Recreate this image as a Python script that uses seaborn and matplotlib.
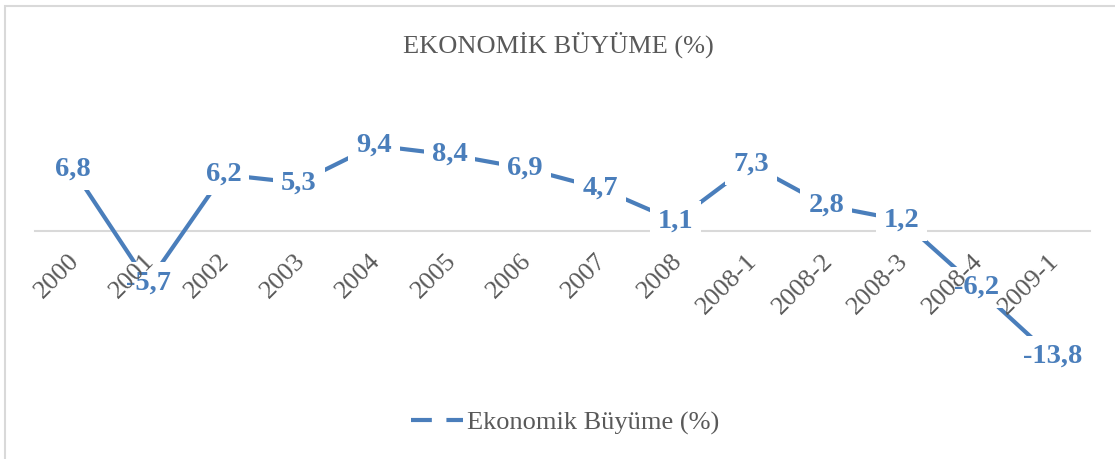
import numpy as np
import pandas as pd
import seaborn as sns
import matplotlib.pyplot as plt
from matplotlib.lines import Line2D
from matplotlib.patches import Rectangle
from matplotlib.transforms import ScaledTranslation

# data
donemler = ["2000", "2001", "2002", "2003", "2004", "2005", "2006", "2007",
            "2008", "2008-1", "2008-2", "2008-3", "2008-4", "2009-1"]
buyume = [6.8, -5.7, 6.2, 5.3, 9.4, 8.4, 6.9, 4.7, 1.1, 7.3, 2.8, 1.2, -6.2, -13.8]
seri_adi = "Ekonomik Büyüme (%)"
baslik = "EKONOMİK BÜYÜME (%)"

mavi = "#4A7EBB"
gri = "#595959"

sns.set_style("white")
plt.rcParams['font.family'] = ['Liberation Serif', 'DejaVu Serif']

df = pd.DataFrame({"x": np.arange(len(donemler)), "y": buyume})

fig = plt.figure(figsize=(11.15, 4.59), dpi=100)
ax = fig.add_axes([35 / 1115, 0.1795, 1055 / 1115, 0.5551])

sns.lineplot(data=df, x="x", y="y", ax=ax, color=mavi, linewidth=3,
             sort=False, zorder=2)

# data labels centred on the points, white box cuts the line
for i, v in enumerate(buyume):
    ax.text(i, v, f"{v:.1f}".replace(".", ","), ha="center", va="center",
            fontsize=20.5, fontweight="bold", color=mavi, zorder=4,
            bbox=dict(boxstyle="square,pad=0.28", fc="white", ec="none"))

ax.set_xlim(-0.5, len(donemler) - 0.5)
ax.set_ylim(-16, 12)
ax.set_xlabel("")
ax.set_ylabel("")
ax.set_yticks([])

for s in ["top", "right", "left"]:
    ax.spines[s].set_visible(False)
ax.spines["bottom"].set_position(("data", 0))
ax.spines["bottom"].set_color("#D9D9D9")
ax.spines["bottom"].set_linewidth(1.5)
ax.spines["bottom"].set_zorder(1)

ax.set_xticks(range(len(donemler)))
ax.set_xticklabels(donemler)
ax.tick_params(axis="x", length=0, pad=19, labelsize=19, labelcolor=gri)
ax.xaxis.set_zorder(5)
off = ScaledTranslation(3 / 100, 0, fig.dpi_scale_trans)
for lab in ax.get_xticklabels():
    lab.set_rotation(45)
    lab.set_ha("right")
    lab.set_va("center")
    lab.set_rotation_mode("anchor")
    lab.set_transform(lab.get_transform() + off)

fig.text(558 / 1115, 1 - 45 / 459, baslik, ha="center", va="center",
         fontsize=19, color=gri)

h = Line2D([], [], color=mavi, linewidth=3, linestyle=(0, (5, 3.5)))
fig.legend([h], [seri_adi], loc="center", bbox_to_anchor=(565 / 1115, 1 - 423 / 459),
           frameon=False, fontsize=19, labelcolor=gri, handlelength=2.0,
           handletextpad=0.15)

# outer chart border
fig.patches.append(Rectangle((5 / 1115, -0.1), 1.2, 1 - 6.5 / 459 + 0.1,
                             transform=fig.transFigure, fill=False,
                             edgecolor="#D9D9D9", linewidth=1.5))

fig.savefig("out.png", dpi=100)
